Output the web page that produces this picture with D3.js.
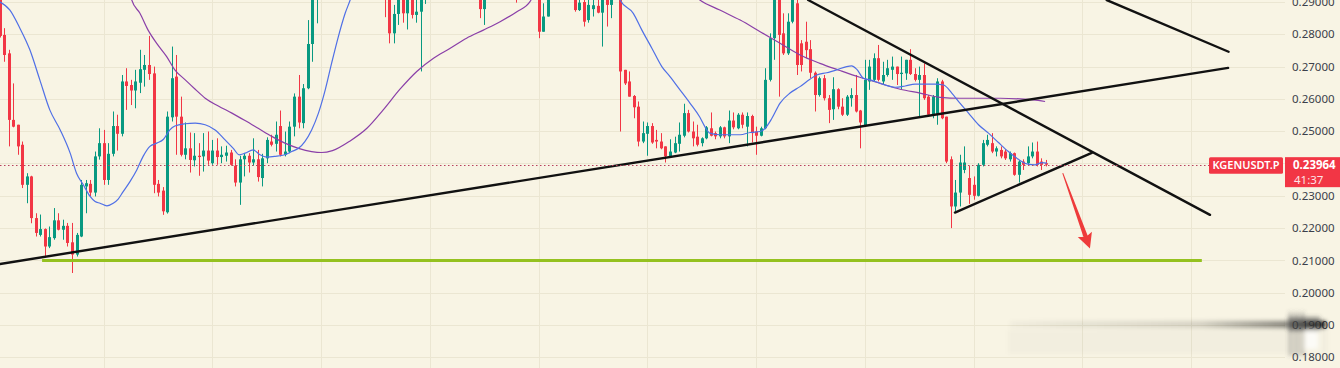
<!DOCTYPE html>
<html>
<head>
<meta charset="utf-8">
<script src="https://cdn.jsdelivr.net/npm/d3@7"></script>
<style>
  html, body { margin: 0; padding: 0; background: #f8f4e4; }
  svg { display: block; font-family: "Noto Sans", "Open Sans", sans-serif; }
</style>
</head>
<body>
<div id="chart"></div>
<script>
// price axis ticks
const yTicks = [0.18, 0.19, 0.20, 0.21, 0.22, 0.23, 0.24, 0.25, 0.26, 0.27, 0.28, 0.29]
// day separators (every 24 hourly candles)
const dayLines = [23, 47, 71, 95, 119, 143, 167, 191, 215, 239, 263]

// hourly candles [open, high, low, close]; null = candle entirely above the visible range
const candles = [
  [0.2920, 0.2950, 0.2790, 0.2795], [0.2798, 0.2819, 0.2715, 0.2736], [0.2741, 0.2752, 0.2453, 0.2535],
  [0.2535, 0.2648, 0.2512, 0.2514], [0.2520, 0.2520, 0.2427, 0.2453], [0.2458, 0.2468, 0.2324, 0.2334],
  [0.2334, 0.2370, 0.2277, 0.2360], [0.2360, 0.2362, 0.2215, 0.2231], [0.2231, 0.2246, 0.2174, 0.2185],
  [0.2179, 0.2242, 0.2174, 0.2197], [0.2197, 0.2199, 0.2112, 0.2143], [0.2143, 0.2205, 0.2138, 0.2172],
  [0.2169, 0.2262, 0.2164, 0.2224], [0.2224, 0.2246, 0.2193, 0.2195], [0.2195, 0.2226, 0.2164, 0.2207],
  [0.2207, 0.2216, 0.2143, 0.2154], [0.2156, 0.2216, 0.2061, 0.2118], [0.2118, 0.2185, 0.2112, 0.2179],
  [0.2174, 0.2349, 0.2172, 0.2334], [0.2329, 0.2349, 0.2246, 0.2339], [0.2337, 0.2349, 0.2298, 0.2310],
  [0.2310, 0.2437, 0.2298, 0.2422], [0.2422, 0.2509, 0.2412, 0.2463], [0.2463, 0.2504, 0.2334, 0.2349],
  [0.2349, 0.2463, 0.2334, 0.2430], [0.2430, 0.2561, 0.2422, 0.2516], [0.2516, 0.2551, 0.2440, 0.2492],
  [0.2492, 0.2674, 0.2484, 0.2654], [0.2654, 0.2695, 0.2566, 0.2640], [0.2643, 0.2659, 0.2581, 0.2626],
  [0.2626, 0.2690, 0.2571, 0.2654], [0.2650, 0.2752, 0.2618, 0.2692], [0.2690, 0.2736, 0.2638, 0.2705],
  [0.2705, 0.2795, 0.2659, 0.2677], [0.2679, 0.2700, 0.2308, 0.2334], [0.2337, 0.2349, 0.2298, 0.2310],
  [0.2316, 0.2327, 0.2241, 0.2252], [0.2249, 0.2561, 0.2245, 0.2545], [0.2543, 0.2762, 0.2530, 0.2664],
  [0.2669, 0.2736, 0.2427, 0.2545], [0.2545, 0.2607, 0.2422, 0.2427], [0.2427, 0.2527, 0.2413, 0.2447],
  [0.2447, 0.2496, 0.2372, 0.2411], [0.2410, 0.2494, 0.2391, 0.2424], [0.2424, 0.2463, 0.2362, 0.2420],
  [0.2422, 0.2494, 0.2375, 0.2440], [0.2440, 0.2499, 0.2396, 0.2409], [0.2401, 0.2473, 0.2396, 0.2440],
  [0.2440, 0.2478, 0.2396, 0.2420], [0.2420, 0.2453, 0.2401, 0.2427], [0.2424, 0.2455, 0.2406, 0.2434],
  [0.2434, 0.2442, 0.2393, 0.2396], [0.2393, 0.2413, 0.2329, 0.2341], [0.2341, 0.2424, 0.2272, 0.2413],
  [0.2413, 0.2432, 0.2360, 0.2424], [0.2424, 0.2432, 0.2372, 0.2403], [0.2403, 0.2478, 0.2393, 0.2413],
  [0.2413, 0.2442, 0.2344, 0.2358], [0.2355, 0.2430, 0.2329, 0.2416], [0.2416, 0.2481, 0.2401, 0.2473],
  [0.2468, 0.2489, 0.2453, 0.2458], [0.2461, 0.2530, 0.2437, 0.2489], [0.2516, 0.2564, 0.2422, 0.2427],
  [0.2427, 0.2499, 0.2422, 0.2437], [0.2437, 0.2530, 0.2432, 0.2514], [0.2514, 0.2617, 0.2484, 0.2607],
  [0.2607, 0.2674, 0.2509, 0.2527], [0.2525, 0.2646, 0.2509, 0.2633], [0.2633, 0.2844, 0.2630, 0.2770],
  [0.2770, 0.2960, 0.2715, 0.2925], [0.2925, 0.3010, 0.2834, 0.2985],
  null, null, null, null, null, null, null, null, null, null, null, null, null, null,
  [0.2980, 0.3000, 0.2853, 0.2930], [0.2940, 0.2960, 0.2772, 0.2803], [0.2803, 0.2891, 0.2772, 0.2863],
  [0.2863, 0.2950, 0.2829, 0.2920], [0.2925, 0.2950, 0.2836, 0.2865], [0.2865, 0.2945, 0.2815, 0.2920],
  [0.2915, 0.2940, 0.2849, 0.2860], [0.2860, 0.2930, 0.2836, 0.2870], [0.2870, 0.2950, 0.2685, 0.2925],
  [0.2925, 0.2990, 0.2894, 0.2960],
  null, null, null, null, null, null, null, null, null, null, null,
  [0.2960, 0.2990, 0.2850, 0.2878], [0.2878, 0.2960, 0.2829, 0.2930],
  null, null, null, null, null, null,
  [0.2960, 0.2990, 0.2898, 0.2920],
  null, null, null, null,
  [0.2935, 0.2960, 0.2788, 0.2808], [0.2808, 0.2896, 0.2808, 0.2855], [0.2855, 0.2950, 0.2855, 0.2925],
  null, null, null, null, null,
  [0.2940, 0.2960, 0.2870, 0.2875], [0.2875, 0.2930, 0.2872, 0.2898], [0.2900, 0.2915, 0.2824, 0.2839],
  [0.2844, 0.2920, 0.2836, 0.2891], [0.2878, 0.2950, 0.2855, 0.2890], [0.2888, 0.2910, 0.2865, 0.2867],
  [0.2867, 0.2945, 0.2762, 0.2925], [0.2920, 0.2940, 0.2824, 0.2891], [0.2891, 0.2940, 0.2850, 0.2920],
  null,
  [0.2935, 0.2950, 0.2499, 0.2685], [0.2690, 0.2690, 0.2643, 0.2648], [0.2654, 0.2685, 0.2607, 0.2607],
  [0.2609, 0.2612, 0.2540, 0.2574], [0.2576, 0.2592, 0.2453, 0.2468], [0.2468, 0.2530, 0.2463, 0.2494],
  [0.2492, 0.2527, 0.2424, 0.2516], [0.2516, 0.2525, 0.2461, 0.2465], [0.2473, 0.2504, 0.2447, 0.2468],
  [0.2468, 0.2494, 0.2444, 0.2447], [0.2453, 0.2453, 0.2403, 0.2422], [0.2422, 0.2475, 0.2420, 0.2437],
  [0.2434, 0.2483, 0.2432, 0.2463], [0.2461, 0.2527, 0.2437, 0.2489], [0.2486, 0.2585, 0.2481, 0.2556],
  [0.2556, 0.2566, 0.2496, 0.2499], [0.2499, 0.2530, 0.2453, 0.2478], [0.2483, 0.2520, 0.2453, 0.2458],
  [0.2463, 0.2481, 0.2453, 0.2478], [0.2478, 0.2516, 0.2475, 0.2512], [0.2509, 0.2558, 0.2484, 0.2486],
  [0.2494, 0.2499, 0.2475, 0.2484], [0.2484, 0.2516, 0.2478, 0.2512], [0.2512, 0.2514, 0.2478, 0.2484],
  [0.2484, 0.2564, 0.2463, 0.2533], [0.2533, 0.2558, 0.2506, 0.2512], [0.2509, 0.2556, 0.2506, 0.2551],
  [0.2551, 0.2558, 0.2509, 0.2520], [0.2514, 0.2558, 0.2453, 0.2547], [0.2547, 0.2551, 0.2465, 0.2494],
  [0.2499, 0.2514, 0.2427, 0.2486], [0.2486, 0.2514, 0.2484, 0.2509], [0.2509, 0.2695, 0.2506, 0.2659],
  [0.2659, 0.2803, 0.2654, 0.2788], [0.2788, 0.2960, 0.2721, 0.2930], [0.2935, 0.2960, 0.2607, 0.2798],
  [0.2803, 0.2865, 0.2736, 0.2741], [0.2741, 0.2865, 0.2736, 0.2839], [0.2839, 0.2960, 0.2834, 0.2925],
  [0.2896, 0.2930, 0.2674, 0.2705], [0.2772, 0.2782, 0.2685, 0.2705], [0.2777, 0.2839, 0.2726, 0.2751],
  [0.2754, 0.2782, 0.2664, 0.2681], [0.2681, 0.2685, 0.2561, 0.2612], [0.2612, 0.2669, 0.2607, 0.2664],
  [0.2664, 0.2674, 0.2595, 0.2602], [0.2602, 0.2612, 0.2525, 0.2566], [0.2568, 0.2667, 0.2535, 0.2630],
  [0.2630, 0.2633, 0.2568, 0.2576], [0.2576, 0.2602, 0.2547, 0.2551], [0.2551, 0.2612, 0.2547, 0.2607],
  [0.2602, 0.2633, 0.2576, 0.2612], [0.2612, 0.2674, 0.2558, 0.2561], [0.2564, 0.2566, 0.2447, 0.2527],
  [0.2516, 0.2721, 0.2516, 0.2659], [0.2654, 0.2721, 0.2628, 0.2700], [0.2659, 0.2741, 0.2654, 0.2726],
  [0.2726, 0.2767, 0.2654, 0.2659], [0.2654, 0.2715, 0.2643, 0.2674], [0.2674, 0.2721, 0.2669, 0.2695],
  [0.2690, 0.2731, 0.2659, 0.2700], [0.2700, 0.2700, 0.2643, 0.2677], [0.2677, 0.2731, 0.2628, 0.2681],
  [0.2679, 0.2721, 0.2659, 0.2721], [0.2721, 0.2754, 0.2674, 0.2677], [0.2677, 0.2695, 0.2654, 0.2659],
  [0.2659, 0.2700, 0.2545, 0.2674], [0.2674, 0.2710, 0.2597, 0.2602], [0.2607, 0.2612, 0.2545, 0.2551],
  [0.2551, 0.2612, 0.2540, 0.2607], [0.2551, 0.2664, 0.2520, 0.2654], [0.2654, 0.2659, 0.2537, 0.2540],
  [0.2545, 0.2545, 0.2401, 0.2406], [0.2413, 0.2422, 0.2200, 0.2267], [0.2267, 0.2349, 0.2252, 0.2310],
  [0.2310, 0.2427, 0.2267, 0.2403], [0.2380, 0.2453, 0.2370, 0.2403], [0.2355, 0.2393, 0.2275, 0.2303],
  [0.2334, 0.2360, 0.2288, 0.2300], [0.2300, 0.2401, 0.2298, 0.2396], [0.2396, 0.2473, 0.2391, 0.2463],
  [0.2458, 0.2489, 0.2453, 0.2473], [0.2463, 0.2494, 0.2432, 0.2437], [0.2437, 0.2453, 0.2422, 0.2447],
  [0.2442, 0.2453, 0.2416, 0.2422], [0.2437, 0.2444, 0.2411, 0.2416], [0.2413, 0.2437, 0.2406, 0.2432],
  [0.2432, 0.2434, 0.2362, 0.2365], [0.2365, 0.2411, 0.2341, 0.2406], [0.2406, 0.2413, 0.2380, 0.2396],
  [0.2401, 0.2453, 0.2396, 0.2422], [0.2422, 0.2465, 0.2416, 0.2437], [0.2437, 0.2468, 0.2391, 0.2396],
  [0.2406, 0.2416, 0.2380, 0.2396], [0.2401, 0.2411, 0.2391, 0.23964]
]

// moving averages as [candle index, price]; null breaks the line where it leaves the pane
const maFast = [
  [0, 0.2901], [2.3, 0.2875], [4.5, 0.2819], [6.7, 0.2752], [8.9, 0.2659], [11.1, 0.2566], [13.4, 0.2504],
  [15.6, 0.2432], [17, 0.2370], [18.5, 0.2334], [20, 0.2298], [21.1, 0.2282], [22.2, 0.2277], [23.7, 0.2269],
  [25.1, 0.2277], [26.2, 0.2290], [27.3, 0.2313], [28.8, 0.2344], [30.3, 0.2380], [31.7, 0.2422], [33.2, 0.2453],
  [34.7, 0.2463], [36.2, 0.2475], [37.6, 0.2504], [38.7, 0.2516], [40.9, 0.2523], [43.2, 0.2525], [45.4, 0.2520],
  [47.6, 0.2504], [49.8, 0.2473], [51.6, 0.2447], [52.9, 0.2427], [54.2, 0.2432], [56, 0.2442], [57.5, 0.2427],
  [59, 0.2420], [60.8, 0.2422], [63, 0.2427], [64.5, 0.2437], [66, 0.2447], [67.4, 0.2468], [68.9, 0.2504],
  [70.4, 0.2556], [71.9, 0.2628], [73.3, 0.2710], [74.8, 0.2793], [76.3, 0.2865], [77.4, 0.2906], [78.4, 0.2950],
  null,
  [136.3, 0.2950], [137, 0.2906], [139.9, 0.2865], [141.8, 0.2813], [144, 0.2757], [146.2, 0.2700], [148, 0.2669],
  [150.2, 0.2628], [152.4, 0.2587], [154.6, 0.2543], [155.7, 0.2514], [156.8, 0.2494], [159, 0.2489],
  [161.3, 0.2489], [163.5, 0.2489], [165.7, 0.2496], [167.9, 0.2499], [169, 0.2509], [170.5, 0.2540],
  [172.3, 0.2587], [174.5, 0.2618], [176.7, 0.2638], [178.9, 0.2661], [180.4, 0.2674], [182.6, 0.2681],
  [184.8, 0.2690], [187, 0.2700], [188.1, 0.2702], [189.2, 0.2692], [190.7, 0.2664], [192.2, 0.2659],
  [193.3, 0.2654], [195.5, 0.2643], [197.7, 0.2636], [199.9, 0.2640], [202.1, 0.2646], [204.3, 0.2646],
  [206.5, 0.2646], [208.4, 0.2643], [210.2, 0.2618], [212, 0.2587], [213.9, 0.2556], [216.1, 0.2520],
  [218.3, 0.2494], [220.5, 0.2465], [222.7, 0.2437], [224.9, 0.2413], [226.8, 0.2399], [228.6, 0.2396],
  [230.1, 0.2403], [231.2, 0.2401]
]

const maSlow = [
  [28.5, 0.2950], [29.2, 0.2906], [31, 0.2865], [32.8, 0.2813], [34.7, 0.2772], [36.9, 0.2731], [38.7, 0.2690],
  [41, 0.2659], [43.2, 0.2630], [45.4, 0.2602], [48.3, 0.2578], [51.3, 0.2556], [54.2, 0.2533], [57.1, 0.2509],
  [60.1, 0.2484], [63, 0.2463], [66, 0.2447], [68.9, 0.2437], [71.1, 0.2434], [73.5, 0.2440], [77.4, 0.2470],
  [81.1, 0.2509], [84.7, 0.2566], [88.4, 0.2630], [92.1, 0.2685], [95.8, 0.2726], [99.4, 0.2756],
  [103.1, 0.2788], [106.8, 0.2813], [110.5, 0.2839], [114.2, 0.2870], [117.1, 0.2901], [118.2, 0.2930],
  null,
  [152.5, 0.2930], [154.6, 0.2906], [159, 0.2875], [163.5, 0.2844], [167.9, 0.2808], [172.3, 0.2772],
  [176.7, 0.2736], [181.1, 0.2710], [185.5, 0.2688], [189.9, 0.2667], [194.4, 0.2648], [198.8, 0.2630],
  [203.2, 0.2618], [207.6, 0.2605], [212, 0.2602], [216.4, 0.2602], [220.9, 0.2602], [225.3, 0.2600],
  [228.2, 0.2597], [230.8, 0.2592]
]

// drawn trend lines [[index, price], [index, price]]
const trendLines = [
  [[0.1, 0.2089], [271.2, 0.2696]],
  [[178.5, 0.2906], [267.2, 0.2241]],
  [[244.4, 0.2906], [271.3, 0.2746]],
  [[210.9, 0.2248], [241.1, 0.2433]]
]
const supportLine = [[9.4, 0.21], [265.4, 0.21]]
const arrow = [[234.7, 0.2370], [240.7, 0.2137]]

const symbol = 'KGENUSDT.P'
const lastPrice = 0.23964
const countdown = '41:37'

const W = 1340
const H = 368
const PANE_W = 1285

const RED = '#f23645'
const GREEN = '#089981'

const x = d3.scaleLinear().domain([0, 231]).range([-0.5, 1046])
const y = d3.scaleLinear().domain([0.18, 0.29]).range([357.3, 2])

const svg = d3.select('#chart').append('svg')
  .attr('width', W)
  .attr('height', H)

const defs = svg.append('defs')
defs.append('clipPath').attr('id', 'pane')
  .append('rect').attr('x', 0).attr('y', 0).attr('width', PANE_W).attr('height', H)
defs.append('filter').attr('id', 'blur')
  .attr('x', '-10%').attr('y', '-200%').attr('width', '120%').attr('height', '500%')
  .append('feGaussianBlur').attr('stdDeviation', 2.2)
const grad = defs.append('linearGradient').attr('id', 'wm')
grad.append('stop').attr('offset', '0%').attr('stop-color', '#000').attr('stop-opacity', 0.03)
grad.append('stop').attr('offset', '60%').attr('stop-color', '#000').attr('stop-opacity', 0.14)
grad.append('stop').attr('offset', '88%').attr('stop-color', '#000').attr('stop-opacity', 0.45)
grad.append('stop').attr('offset', '100%').attr('stop-color', '#000').attr('stop-opacity', 0.85)

svg.append('rect').attr('width', W).attr('height', H).attr('fill', '#f8f4e4')

const pane = svg.append('g').attr('clip-path', 'url(#pane)')

// --- GRID ---
pane.append('g').selectAll('line')
  .data(yTicks).enter().append('line')
  .attr('x1', 0).attr('x2', PANE_W)
  .attr('y1', d => Math.round(y(d)) + 0.5).attr('y2', d => Math.round(y(d)) + 0.5)
  .attr('stroke', '#ebe6d2').attr('stroke-width', 1)

pane.append('g').selectAll('line')
  .data(dayLines).enter().append('line')
  .attr('x1', d => Math.round(x(d)) + 0.5).attr('x2', d => Math.round(x(d)) + 0.5)
  .attr('y1', 0).attr('y2', H)
  .attr('stroke', '#ebe6d2').attr('stroke-width', 1)

// --- CANDLES ---
const bars = candles.map((c, i) => c && { i, o: c[0], h: c[1], l: c[2], c: c[3] }).filter(Boolean)
const cg = pane.append('g')
cg.selectAll('line')
  .data(bars).enter().append('line')
  .attr('x1', d => Math.round(x(d.i)) + 0.5).attr('x2', d => Math.round(x(d.i)) + 0.5)
  .attr('y1', d => y(d.h)).attr('y2', d => y(d.l))
  .attr('stroke', d => d.c >= d.o ? GREEN : RED)
  .attr('stroke-width', 1)
cg.selectAll('rect')
  .data(bars).enter().append('rect')
  .attr('x', d => Math.round(x(d.i)) - 1)
  .attr('width', 3)
  .attr('y', d => y(Math.max(d.o, d.c)))
  .attr('height', d => Math.max(1, Math.abs(y(d.o) - y(d.c))))
  .attr('fill', d => d.c >= d.o ? GREEN : RED)

// --- MOVING AVERAGES ---
const maLine = d3.line()
  .defined(d => d !== null)
  .x(d => x(d[0]))
  .y(d => y(d[1]))
  .curve(d3.curveMonotoneX)

pane.append('path').datum(maSlow)
  .attr('d', maLine).attr('fill', 'none')
  .attr('stroke', '#8a3fa8').attr('stroke-width', 1.2)

pane.append('path').datum(maFast)
  .attr('d', maLine).attr('fill', 'none')
  .attr('stroke', '#4f6fe6').attr('stroke-width', 1.2)

// --- DRAWINGS ---
const straight = d3.line().x(d => x(d[0])).y(d => y(d[1]))

pane.append('g').selectAll('path')
  .data(trendLines).enter().append('path')
  .attr('d', straight)
  .attr('stroke', '#111').attr('stroke-width', 2.4)
  .attr('stroke-linecap', 'round').attr('fill', 'none')

pane.append('path').datum(supportLine)
  .attr('d', straight)
  .attr('stroke', '#95c11f').attr('stroke-width', 3).attr('fill', 'none')

// last price line
pane.append('line')
  .attr('x1', 0).attr('x2', 1209)
  .attr('y1', Math.round(y(lastPrice)) + 0.5).attr('y2', Math.round(y(lastPrice)) + 0.5)
  .attr('stroke', '#b8415e').attr('stroke-width', 1)
  .attr('stroke-dasharray', '1.5 2.5')

// red arrow, built in pixel space from its two data points
{
  const [t, h] = arrow
  const x0 = x(t[0]); const y0 = y(t[1])
  const x1 = x(h[0]); const y1 = y(h[1])
  const len = Math.hypot(x1 - x0, y1 - y0)
  const ux = (x1 - x0) / len; const uy = (y1 - y0) / len
  const nx = -uy; const ny = ux
  const headLen = 15; const headW = 7.5
  const bx = x1 - ux * headLen; const by = y1 - uy * headLen
  const pts = [
    [x0 + nx * 0.5, y0 + ny * 0.5],
    [bx + ux * 2 + nx * 2.2, by + uy * 2 + ny * 2.2],
    [bx + nx * headW, by + ny * headW],
    [x1, y1],
    [bx - nx * headW, by - ny * headW],
    [bx + ux * 2 - nx * 2.2, by + uy * 2 - ny * 2.2],
    [x0 - nx * 0.5, y0 - ny * 0.5]
  ]
  pane.append('path')
    .attr('d', d3.line()(pts) + 'Z')
    .attr('fill', '#ee3b3b')
}

// --- PRICE AXIS ---
const axis = svg.append('g')
  .attr('transform', 'translate(1292,0)')
  .call(d3.axisRight(y).tickValues(yTicks).tickFormat(d3.format('.5f')).tickSize(0).tickPadding(0))
axis.select('.domain').remove()
axis.selectAll('text')
  .attr('fill', '#3b3f4a')
  .style('font-size', '11.5px')
  .style('font-family', '"Noto Sans", sans-serif')

// symbol + last price labels
const ly = y(lastPrice)
svg.append('rect')
  .attr('x', 1209).attr('y', ly - 7.5).attr('width', 74).attr('height', 16.5)
  .attr('rx', 1.5).attr('fill', RED)
svg.append('text')
  .attr('x', 1246).attr('y', ly + 4.5)
  .attr('text-anchor', 'middle')
  .attr('fill', '#fff').style('font-size', '11px').style('font-weight', 600)
  .text(symbol)

svg.append('rect')
  .attr('x', 1285).attr('y', ly - 7.5).attr('width', 55).attr('height', 30)
  .attr('fill', RED)
svg.append('text')
  .attr('x', 1293).attr('y', ly + 4.5)
  .attr('fill', '#fff').style('font-size', '11.5px').style('font-weight', 700)
  .text(d3.format('.5f')(lastPrice))
svg.append('text')
  .attr('x', 1294).attr('y', ly + 19)
  .attr('fill', '#fde3e6').style('font-size', '11.5px')
  .text(countdown)

// faint blurred watermark strip at the bottom right
const wm = svg.append('g').attr('filter', 'url(#blur)')
wm.append('rect').attr('x', 1010).attr('y', 321).attr('width', 316).attr('height', 7).attr('fill', 'url(#wm)')
wm.append('rect').attr('x', 1008).attr('y', 330).attr('width', 320).attr('height', 24).attr('fill', '#000').attr('opacity', 0.025)
wm.append('rect').attr('x', 1288).attr('y', 317).attr('width', 32).attr('height', 14).attr('fill', '#444').attr('opacity', 0.55)
wm.selectAll('.bar').data([1289, 1295, 1301]).enter().append('rect')
  .attr('x', d => d).attr('y', 312).attr('width', 3).attr('height', 44)
  .attr('fill', '#555').attr('opacity', 0.4)
wm.append('rect').attr('x', 1305).attr('y', 331).attr('width', 13).attr('height', 18).attr('fill', '#fff').attr('opacity', 0.75)
</script>
</body>
</html>
